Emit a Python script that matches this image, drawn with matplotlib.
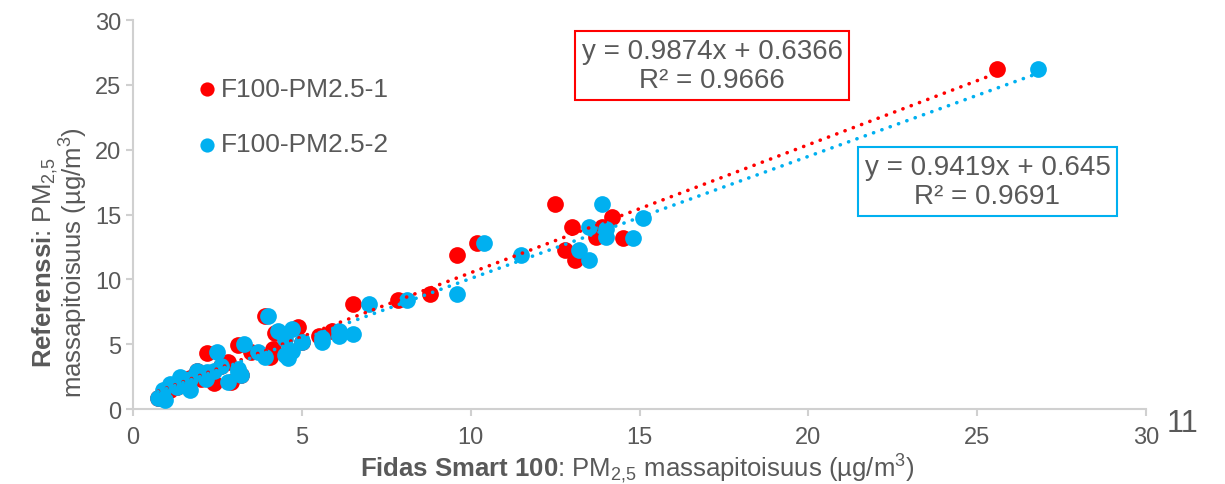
import matplotlib
matplotlib.use("Agg")
import matplotlib.pyplot as plt
import numpy as np

# ---- data ----
red_x = [0.75, 0.9, 1.1, 1.3, 1.4, 1.7, 1.9, 2.0, 2.2, 2.4, 2.6, 2.8, 2.9, 3.1, 3.2, 3.5,
         3.9, 4.05, 4.15, 4.2, 4.9, 5.0, 5.5, 5.9, 6.5, 7.85, 8.8, 9.6, 10.2,
         12.5, 12.8, 13.0, 13.1, 13.7, 13.9, 14.2, 14.5, 25.6]
red_y = [0.85, 1.0, 1.5, 1.7, 2.0, 2.4, 2.9, 2.3, 4.3, 2.0, 3.3, 3.6, 2.1, 4.9, 2.6, 4.4,
         7.2, 4.0, 4.6, 5.9, 6.3, 5.2, 5.6, 6.0, 8.1, 8.4, 8.9, 11.9, 12.8,
         15.8, 12.3, 14.0, 11.5, 13.3, 14.0, 14.8, 13.2, 26.2]

blue_x = [0.74, 0.95, 0.9, 1.1, 1.3, 1.4, 1.7, 1.7, 1.9, 2.15, 2.2, 2.4, 2.5, 2.6, 2.8,
          3.1, 3.1, 3.2, 3.3, 3.7, 3.9, 4.0, 4.3, 4.5, 4.5, 4.6, 4.7, 4.7, 5.0,
          5.6, 5.6, 6.1, 6.1, 6.5, 7.0, 8.1, 9.6, 10.4, 11.5, 13.2, 13.5, 13.5,
          13.9, 14.0, 14.0, 14.8, 15.1, 26.8]
blue_y = [0.85, 0.7, 1.5, 1.9, 1.7, 2.5, 1.5, 2.3, 2.9, 2.3, 2.85, 2.9, 4.4, 3.3, 2.1,
          3.1, 2.85, 2.6, 5.0, 4.4, 4.0, 7.2, 6.0, 5.4, 4.2, 3.9, 6.2, 4.5, 5.2,
          5.2, 5.5, 5.6, 6.0, 5.8, 8.1, 8.4, 8.9, 12.8, 11.9, 12.3, 11.5, 14.0,
          15.8, 13.9, 13.3, 13.2, 14.7, 26.2]

red_fit = (0.9874, 0.6366, 0.9666)
blue_fit = (0.9419, 0.645, 0.9691)

series_names = ["F100-PM2.5-1", "F100-PM2.5-2"]
ticks = [0, 5, 10, 15, 20, 25, 30]

RED = "#FF0000"
BLUE = "#00B0F0"
GRAY = "#595959"

plt.rcParams['font.family'] = ['Liberation Sans', 'DejaVu Sans']
plt.rcParams['mathtext.fontset'] = 'custom'
plt.rcParams['mathtext.rm'] = 'Liberation Sans'
plt.rcParams['mathtext.it'] = 'Liberation Sans:italic'
plt.rcParams['mathtext.bf'] = 'Liberation Sans:bold'

fig = plt.figure(figsize=(12.25, 4.85), dpi=100)
ax = fig.add_axes([0.1086, 0.1546, 0.8269, 0.8021])

ax.scatter(red_x, red_y, s=145, color=RED, zorder=3, linewidths=0, label=series_names[0])
ax.scatter(blue_x, blue_y, s=145, color=BLUE, zorder=4, linewidths=0, label=series_names[1])

for xs, (m, b, r2), col in ((red_x, red_fit, RED), (blue_x, blue_fit, BLUE)):
    xx = np.array([min(xs), max(xs)])
    ax.plot(xx, m * xx + b, color=col, lw=2.6, linestyle=(0, (0.05, 2.4)),
            dash_capstyle='round', zorder=5)

ax.set_xlim(0, 30)
ax.set_ylim(0, 30)
ax.set_xticks(ticks)
ax.set_yticks(ticks)
for s in ['top', 'right']:
    ax.spines[s].set_visible(False)
for s in ['left', 'bottom']:
    ax.spines[s].set_color('#D0D0D0')
    ax.spines[s].set_linewidth(1.5)
ax.tick_params(axis='both', colors='#D0D0D0', labelcolor=GRAY, labelsize=17,
               length=5, width=1.5, direction='out')
ax.tick_params(axis='x', pad=7)

ax.set_xlabel(r"$\bf{Fidas\ Smart\ 100}$: PM$_{2{,}5}$ massapitoisuus (µg/m$^3$)",
              fontsize=18.5, color=GRAY)
ax.xaxis.set_label_coords(0.4975, -0.108)
ax.set_ylabel("$\\bf{Referenssi}$: PM$_{2{,}5}$\nmassapitoisuus (µg/m$^3$)",
              fontsize=18.5, color=GRAY, linespacing=0.95)
ax.yaxis.set_label_coords(-0.042, 0.38)

leg = ax.legend(loc='upper left', bbox_to_anchor=(0.037, 0.915), frameon=False,
                fontsize=19, labelcolor=GRAY, handletextpad=0.0,
                labelspacing=1.2, markerscale=0.85, handlelength=1.0)

ax.text(0.5716, 0.882,
        f"y = {red_fit[0]}x + {red_fit[1]}\nR² = {red_fit[2]}",
        transform=ax.transAxes, ha='center', va='center', fontsize=20,
        color=GRAY, linespacing=1.15, zorder=6,
        bbox=dict(boxstyle='square,pad=0.25', fc='white', ec=RED, lw=1.5))
ax.text(0.8435, 0.585,
        f"y = {blue_fit[0]}x + {blue_fit[1]}\nR² = {blue_fit[2]}",
        transform=ax.transAxes, ha='center', va='center', fontsize=20,
        color=GRAY, linespacing=1.15, zorder=6,
        bbox=dict(boxstyle='square,pad=0.25', fc='white', ec=BLUE, lw=1.5))

fig.text(0.965, 0.125, "11", fontsize=22, color=GRAY, ha='center', va='center')

fig.savefig("out.png", dpi=100)
